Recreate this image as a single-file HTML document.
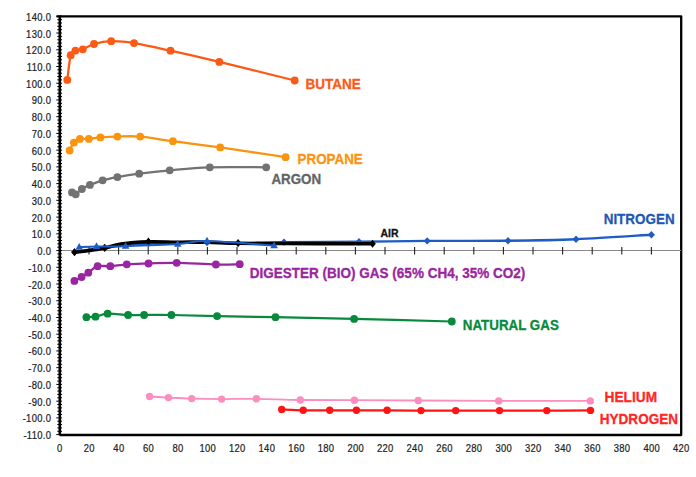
<!DOCTYPE html><html><head><meta charset="utf-8"><style>html,body{margin:0;padding:0;background:#fff;width:696px;height:477px;overflow:hidden}svg{display:block}</style></head><body>
<svg width="696" height="477" viewBox="0 0 696 477">
<rect width="696" height="477" fill="#fff"/>
<g font-family="Liberation Sans, sans-serif" font-size="10.7" letter-spacing="0.35" fill="#1c1c24" stroke="#1c1c24" stroke-width="0.22" text-anchor="end" transform="scale(0.88 1)">
<text x="58.18" y="20.80">140.0</text>
<text x="58.18" y="37.53">130.0</text>
<text x="58.18" y="54.27">120.0</text>
<text x="58.18" y="71.00">110.0</text>
<text x="58.18" y="87.73">100.0</text>
<text x="58.18" y="104.46">90.0</text>
<text x="58.18" y="121.19">80.0</text>
<text x="58.18" y="137.93">70.0</text>
<text x="58.18" y="154.66">60.0</text>
<text x="58.18" y="171.39">50.0</text>
<text x="58.18" y="188.12">40.0</text>
<text x="58.18" y="204.85">30.0</text>
<text x="58.18" y="221.59">20.0</text>
<text x="58.18" y="238.32">10.0</text>
<text x="58.18" y="255.05">0.0</text>
<text x="58.18" y="271.78">-10.0</text>
<text x="58.18" y="288.51">-20.0</text>
<text x="58.18" y="305.25">-30.0</text>
<text x="58.18" y="321.98">-40.0</text>
<text x="58.18" y="338.71">-50.0</text>
<text x="58.18" y="355.44">-60.0</text>
<text x="58.18" y="372.17">-70.0</text>
<text x="58.18" y="388.91">-80.0</text>
<text x="58.18" y="405.64">-90.0</text>
<text x="58.18" y="422.37">-100.0</text>
<text x="58.18" y="439.10">-110.0</text>
</g>
<g font-family="Liberation Sans, sans-serif" font-size="10.7" letter-spacing="0.35" fill="#1c1c24" stroke="#1c1c24" stroke-width="0.22" text-anchor="middle" transform="scale(0.88 1)">
<text x="67.84" y="451.6">0</text>
<text x="101.48" y="451.6">20</text>
<text x="135.11" y="451.6">40</text>
<text x="168.75" y="451.6">60</text>
<text x="202.39" y="451.6">80</text>
<text x="236.02" y="451.6">100</text>
<text x="269.66" y="451.6">120</text>
<text x="303.30" y="451.6">140</text>
<text x="336.93" y="451.6">160</text>
<text x="370.57" y="451.6">180</text>
<text x="404.20" y="451.6">200</text>
<text x="437.84" y="451.6">220</text>
<text x="471.48" y="451.6">240</text>
<text x="505.11" y="451.6">260</text>
<text x="538.75" y="451.6">280</text>
<text x="572.39" y="451.6">300</text>
<text x="606.02" y="451.6">320</text>
<text x="639.66" y="451.6">340</text>
<text x="673.30" y="451.6">360</text>
<text x="706.93" y="451.6">380</text>
<text x="740.57" y="451.6">400</text>
<text x="774.20" y="451.6">420</text>
</g>
<path d="M56.5 16.3H681.2V435H59.7" fill="none" stroke="#000" stroke-width="2.3" stroke-linejoin="round"/>
<line x1="59.7" y1="435" x2="681.2" y2="435" stroke="#000" stroke-width="1.8"/>
<line x1="60" y1="250.5" x2="681" y2="250.5" stroke="#8a8a8a" stroke-width="1"/>
<path d="M89.00 247V254.5 M118.60 247V254.5 M148.20 247V254.5 M177.80 247V254.5 M207.40 247V254.5 M237.00 247V254.5 M266.60 247V254.5 M296.20 247V254.5 M325.80 247V254.5 M355.40 247V254.5 M385.00 247V254.5 M414.60 247V254.5 M444.20 247V254.5 M473.80 247V254.5 M503.40 247V254.5 M533.00 247V254.5 M562.60 247V254.5 M592.20 247V254.5 M621.80 247V254.5 M651.40 247V254.5" stroke="#222" stroke-width="1.1" fill="none"/>
<line x1="59.8" y1="15.4" x2="59.8" y2="435.2" stroke="#000" stroke-width="2.6"/>
<path d="M56.3 16.30H62 M57.3 19.65H62 M57.3 22.99H62 M57.3 26.34H62 M57.3 29.69H62 M56.3 33.03H62 M57.3 36.38H62 M57.3 39.73H62 M57.3 43.07H62 M57.3 46.42H62 M56.3 49.77H62 M57.3 53.11H62 M57.3 56.46H62 M57.3 59.81H62 M57.3 63.15H62 M56.3 66.50H62 M57.3 69.84H62 M57.3 73.19H62 M57.3 76.54H62 M57.3 79.88H62 M56.3 83.23H62 M57.3 86.58H62 M57.3 89.92H62 M57.3 93.27H62 M57.3 96.62H62 M56.3 99.96H62 M57.3 103.31H62 M57.3 106.65H62 M57.3 110.00H62 M57.3 113.35H62 M56.3 116.69H62 M57.3 120.04H62 M57.3 123.39H62 M57.3 126.73H62 M57.3 130.08H62 M56.3 133.43H62 M57.3 136.77H62 M57.3 140.12H62 M57.3 143.47H62 M57.3 146.81H62 M56.3 150.16H62 M57.3 153.50H62 M57.3 156.85H62 M57.3 160.20H62 M57.3 163.54H62 M56.3 166.89H62 M57.3 170.24H62 M57.3 173.58H62 M57.3 176.93H62 M57.3 180.28H62 M56.3 183.62H62 M57.3 186.97H62 M57.3 190.31H62 M57.3 193.66H62 M57.3 197.01H62 M56.3 200.35H62 M57.3 203.70H62 M57.3 207.05H62 M57.3 210.39H62 M57.3 213.74H62 M56.3 217.09H62 M57.3 220.43H62 M57.3 223.78H62 M57.3 227.13H62 M57.3 230.47H62 M56.3 233.82H62 M57.3 237.16H62 M57.3 240.51H62 M57.3 243.86H62 M57.3 247.20H62 M56.3 250.55H62 M57.3 253.90H62 M57.3 257.24H62 M57.3 260.59H62 M57.3 263.94H62 M56.3 267.28H62 M57.3 270.63H62 M57.3 273.97H62 M57.3 277.32H62 M57.3 280.67H62 M56.3 284.01H62 M57.3 287.36H62 M57.3 290.71H62 M57.3 294.05H62 M57.3 297.40H62 M56.3 300.75H62 M57.3 304.09H62 M57.3 307.44H62 M57.3 310.79H62 M57.3 314.13H62 M56.3 317.48H62 M57.3 320.82H62 M57.3 324.17H62 M57.3 327.52H62 M57.3 330.86H62 M56.3 334.21H62 M57.3 337.56H62 M57.3 340.90H62 M57.3 344.25H62 M57.3 347.60H62 M56.3 350.94H62 M57.3 354.29H62 M57.3 357.63H62 M57.3 360.98H62 M57.3 364.33H62 M56.3 367.67H62 M57.3 371.02H62 M57.3 374.37H62 M57.3 377.71H62 M57.3 381.06H62 M56.3 384.41H62 M57.3 387.75H62 M57.3 391.10H62 M57.3 394.45H62 M57.3 397.79H62 M56.3 401.14H62 M57.3 404.48H62 M57.3 407.83H62 M57.3 411.18H62 M57.3 414.52H62 M56.3 417.87H62 M57.3 421.22H62 M57.3 424.56H62 M57.3 427.91H62 M57.3 431.26H62 M56.3 434.60H62" stroke="#000" stroke-width="1" fill="none"/>
<path d="M67.3 79.9C67.87 75.78 69.35 60.08 70.7 55.2C72.05 50.32 73.38 51.58 75.4 50.6C77.42 49.62 79.70 50.40 82.8 49.3C85.90 48.20 89.27 45.35 94.0 44.0C98.73 42.65 104.53 41.35 111.2 41.2C117.87 41.05 124.12 41.52 134.0 43.1C143.88 44.68 156.28 47.57 170.5 50.7C184.72 53.83 198.60 56.93 219.3 61.9C240.00 66.87 282.13 77.40 294.7 80.5" fill="none" stroke="#fb5a16" stroke-width="2.3" stroke-linejoin="round" stroke-linecap="round"/>
<circle cx="67.3" cy="79.9" r="3.9" fill="#fb5a16"/>
<circle cx="70.7" cy="55.2" r="3.9" fill="#fb5a16"/>
<circle cx="75.4" cy="50.6" r="3.9" fill="#fb5a16"/>
<circle cx="82.8" cy="49.3" r="3.9" fill="#fb5a16"/>
<circle cx="94.0" cy="44.0" r="3.9" fill="#fb5a16"/>
<circle cx="111.2" cy="41.2" r="3.9" fill="#fb5a16"/>
<circle cx="134.0" cy="43.1" r="3.9" fill="#fb5a16"/>
<circle cx="170.5" cy="50.7" r="3.9" fill="#fb5a16"/>
<circle cx="219.3" cy="61.9" r="3.9" fill="#fb5a16"/>
<circle cx="294.7" cy="80.5" r="3.9" fill="#fb5a16"/>
<path d="M69.6 150.5C70.32 149.18 72.18 144.53 73.9 142.6C75.62 140.67 77.42 139.52 79.9 138.9C82.38 138.28 85.38 139.15 88.8 138.9C92.22 138.65 95.63 137.78 100.4 137.4C105.17 137.02 110.77 136.73 117.4 136.6C124.03 136.47 130.95 135.83 140.2 136.6C149.45 137.37 159.57 139.40 172.9 141.2C186.23 143.00 201.42 144.73 220.2 147.4C238.98 150.07 274.70 155.57 285.6 157.2" fill="none" stroke="#fa9410" stroke-width="2.3" stroke-linejoin="round" stroke-linecap="round"/>
<circle cx="69.6" cy="150.5" r="3.9" fill="#fa9410"/>
<circle cx="73.9" cy="142.6" r="3.9" fill="#fa9410"/>
<circle cx="79.9" cy="138.9" r="3.9" fill="#fa9410"/>
<circle cx="88.8" cy="138.9" r="3.9" fill="#fa9410"/>
<circle cx="100.4" cy="137.4" r="3.9" fill="#fa9410"/>
<circle cx="117.4" cy="136.6" r="3.9" fill="#fa9410"/>
<circle cx="140.2" cy="136.6" r="3.9" fill="#fa9410"/>
<circle cx="172.9" cy="141.2" r="3.9" fill="#fa9410"/>
<circle cx="220.2" cy="147.4" r="3.9" fill="#fa9410"/>
<circle cx="285.6" cy="157.2" r="3.9" fill="#fa9410"/>
<path d="M72.0 192.4C72.62 192.72 74.05 194.87 75.7 194.3C77.35 193.73 79.53 190.57 81.9 189.0C84.27 187.43 86.45 186.35 89.9 184.9C93.35 183.45 98.02 181.60 102.6 180.3C107.18 179.00 111.30 178.20 117.4 177.1C123.50 176.00 130.48 174.83 139.2 173.7C147.92 172.57 157.93 171.37 169.7 170.3C181.47 169.23 193.72 167.80 209.8 167.3C225.88 166.80 256.80 167.30 266.2 167.3" fill="none" stroke="#727272" stroke-width="2.3" stroke-linejoin="round" stroke-linecap="round"/>
<circle cx="72.0" cy="192.4" r="3.9" fill="#727272"/>
<circle cx="75.7" cy="194.3" r="3.9" fill="#727272"/>
<circle cx="81.9" cy="189.0" r="3.9" fill="#727272"/>
<circle cx="89.9" cy="184.9" r="3.9" fill="#727272"/>
<circle cx="102.6" cy="180.3" r="3.9" fill="#727272"/>
<circle cx="117.4" cy="177.1" r="3.9" fill="#727272"/>
<circle cx="139.2" cy="173.7" r="3.9" fill="#727272"/>
<circle cx="169.7" cy="170.3" r="3.9" fill="#727272"/>
<circle cx="209.8" cy="167.3" r="3.9" fill="#727272"/>
<circle cx="266.2" cy="167.3" r="3.9" fill="#727272"/>
<path d="M74.4 280.9C75.60 280.25 79.28 278.37 81.6 277.0C83.92 275.63 85.63 274.50 88.3 272.7C90.97 270.90 93.93 267.28 97.6 266.2C101.27 265.12 105.43 266.52 110.3 266.2C115.17 265.88 120.43 264.75 126.8 264.3C133.17 263.85 140.18 263.75 148.5 263.5C156.82 263.25 165.47 262.63 176.7 262.8C187.93 262.97 205.40 264.27 215.9 264.5C226.40 264.73 235.73 264.25 239.7 264.2" fill="none" stroke="#9a25a0" stroke-width="2.3" stroke-linejoin="round" stroke-linecap="round"/>
<circle cx="74.4" cy="280.9" r="3.9" fill="#9a25a0"/>
<circle cx="81.6" cy="277.0" r="3.9" fill="#9a25a0"/>
<circle cx="88.3" cy="272.7" r="3.9" fill="#9a25a0"/>
<circle cx="97.6" cy="266.2" r="3.9" fill="#9a25a0"/>
<circle cx="110.3" cy="266.2" r="3.9" fill="#9a25a0"/>
<circle cx="126.8" cy="264.3" r="3.9" fill="#9a25a0"/>
<circle cx="148.5" cy="263.5" r="3.9" fill="#9a25a0"/>
<circle cx="176.7" cy="262.8" r="3.9" fill="#9a25a0"/>
<circle cx="215.9" cy="264.5" r="3.9" fill="#9a25a0"/>
<circle cx="239.7" cy="264.2" r="3.9" fill="#9a25a0"/>
<path d="M86.4 317.2C87.92 317.12 91.97 317.28 95.5 316.7C99.03 316.12 102.17 313.98 107.6 313.7C113.03 313.42 122.02 314.78 128.1 315.0C134.18 315.22 136.88 315.00 144.1 315.0C151.32 315.00 159.23 314.82 171.4 315.0C183.57 315.18 199.75 315.73 217.1 316.1C234.45 316.47 252.67 316.73 275.5 317.2C298.33 317.67 324.72 318.18 354.1 318.9C383.48 319.62 435.52 321.07 451.8 321.5" fill="none" stroke="#088a3c" stroke-width="2.2" stroke-linejoin="round" stroke-linecap="round"/>
<circle cx="86.4" cy="317.2" r="3.9" fill="#088a3c"/>
<circle cx="95.5" cy="316.7" r="3.9" fill="#088a3c"/>
<circle cx="107.6" cy="313.7" r="3.9" fill="#088a3c"/>
<circle cx="128.1" cy="315.0" r="3.9" fill="#088a3c"/>
<circle cx="144.1" cy="315.0" r="3.9" fill="#088a3c"/>
<circle cx="171.4" cy="315.0" r="3.9" fill="#088a3c"/>
<circle cx="217.1" cy="316.1" r="3.9" fill="#088a3c"/>
<circle cx="275.5" cy="317.2" r="3.9" fill="#088a3c"/>
<circle cx="354.1" cy="318.9" r="3.9" fill="#088a3c"/>
<circle cx="451.8" cy="321.5" r="3.9" fill="#088a3c"/>
<path d="M149.6 396.5C152.73 396.68 161.38 397.25 168.4 397.6C175.42 397.95 182.83 398.35 191.7 398.6C200.57 398.85 210.82 399.07 221.6 399.1C232.38 399.13 243.28 398.65 256.4 398.8C269.52 398.95 283.97 399.77 300.3 400C316.63 400.23 334.75 400.12 354.4 400.2C374.05 400.28 394.15 400.38 418.2 400.5C442.25 400.62 470.02 400.83 498.7 400.9C527.38 400.97 575.03 400.90 590.3 400.9" fill="none" stroke="#fd8dbf" stroke-width="1.8" stroke-linejoin="round" stroke-linecap="round"/>
<circle cx="149.6" cy="396.5" r="3.7" fill="#fd8dbf"/>
<circle cx="168.4" cy="397.6" r="3.7" fill="#fd8dbf"/>
<circle cx="191.7" cy="398.6" r="3.7" fill="#fd8dbf"/>
<circle cx="221.6" cy="399.1" r="3.7" fill="#fd8dbf"/>
<circle cx="256.4" cy="398.8" r="3.7" fill="#fd8dbf"/>
<circle cx="300.3" cy="400" r="3.7" fill="#fd8dbf"/>
<circle cx="354.4" cy="400.2" r="3.7" fill="#fd8dbf"/>
<circle cx="418.2" cy="400.5" r="3.7" fill="#fd8dbf"/>
<circle cx="498.7" cy="400.9" r="3.7" fill="#fd8dbf"/>
<circle cx="590.3" cy="400.9" r="3.7" fill="#fd8dbf"/>
<path d="M281.7 409.4C285.28 409.55 295.20 410.15 303.2 410.3C311.20 410.45 320.83 410.30 329.7 410.3C338.57 410.30 346.83 410.30 356.4 410.3C365.97 410.30 376.33 410.25 387.1 410.3C397.87 410.35 409.57 410.55 421 410.6C432.43 410.65 442.62 410.60 455.7 410.6C468.78 410.60 484.32 410.60 499.5 410.6C514.68 410.60 531.63 410.63 546.8 410.6C561.97 410.57 583.22 410.43 590.5 410.4" fill="none" stroke="#ff1414" stroke-width="2.3" stroke-linejoin="round" stroke-linecap="round"/>
<circle cx="281.7" cy="409.4" r="3.7" fill="#ff1414"/>
<circle cx="303.2" cy="410.3" r="3.7" fill="#ff1414"/>
<circle cx="329.7" cy="410.3" r="3.7" fill="#ff1414"/>
<circle cx="356.4" cy="410.3" r="3.7" fill="#ff1414"/>
<circle cx="387.1" cy="410.3" r="3.7" fill="#ff1414"/>
<circle cx="421" cy="410.6" r="3.7" fill="#ff1414"/>
<circle cx="455.7" cy="410.6" r="3.7" fill="#ff1414"/>
<circle cx="499.5" cy="410.6" r="3.7" fill="#ff1414"/>
<circle cx="546.8" cy="410.6" r="3.7" fill="#ff1414"/>
<circle cx="590.5" cy="410.4" r="3.7" fill="#ff1414"/>
<path d="M74.5 252C79.53 251.25 92.38 248.92 104.7 247.5C117.02 246.08 131.35 244.33 148.4 243.5C165.45 242.67 192.07 242.53 207 242.5C221.93 242.47 225.17 243.37 238 243.3C250.83 243.23 263.83 242.35 284 242.1C304.17 241.85 335.13 242.00 359 241.8C382.87 241.60 402.37 241.08 427.2 240.9C452.03 240.72 483.20 240.98 508 240.7C532.80 240.42 552.10 240.20 576 239.2C599.90 238.20 638.83 235.45 651.4 234.7" fill="none" stroke="#1c5cc4" stroke-width="2.4" stroke-linejoin="round" stroke-linecap="round"/>
<path d="M74.5 248.3L78.015 252L74.5 255.7L70.985 252Z" fill="#1c5cc4"/>
<path d="M104.7 243.8L108.215 247.5L104.7 251.2L101.185 247.5Z" fill="#1c5cc4"/>
<path d="M148.4 239.8L151.915 243.5L148.4 247.2L144.88500000000002 243.5Z" fill="#1c5cc4"/>
<path d="M207 238.8L210.515 242.5L207 246.2L203.485 242.5Z" fill="#1c5cc4"/>
<path d="M238 239.60000000000002L241.515 243.3L238 247.0L234.485 243.3Z" fill="#1c5cc4"/>
<path d="M284 238.4L287.515 242.1L284 245.79999999999998L280.485 242.1Z" fill="#1c5cc4"/>
<path d="M359 238.10000000000002L362.515 241.8L359 245.5L355.485 241.8Z" fill="#1c5cc4"/>
<path d="M427.2 237.20000000000002L430.715 240.9L427.2 244.6L423.685 240.9Z" fill="#1c5cc4"/>
<path d="M508 237.0L511.515 240.7L508 244.39999999999998L504.485 240.7Z" fill="#1c5cc4"/>
<path d="M576 235.5L579.515 239.2L576 242.89999999999998L572.485 239.2Z" fill="#1c5cc4"/>
<path d="M651.4 231.0L654.915 234.7L651.4 238.39999999999998L647.885 234.7Z" fill="#1c5cc4"/>
<path d="M74.5 252.3C77.00 252.00 84.47 251.22 89.5 250.5C94.53 249.78 99.45 249.08 104.7 248C109.95 246.92 113.72 245.03 121 244C128.28 242.97 138.98 242.10 148.4 241.8C157.82 241.50 167.73 242.13 177.5 242.2C187.27 242.27 196.90 242.02 207 242.2C217.10 242.38 225.27 243.08 238.1 243.3C250.93 243.52 263.85 243.43 284 243.5C304.15 243.57 344.23 243.67 359 243.7C373.77 243.73 370.33 243.70 372.6 243.7" fill="none" stroke="#000" stroke-width="3.6" stroke-linejoin="round" stroke-linecap="round"/>
<path d="M74.5 248.3L77.7 252.3L74.5 256.3L71.3 252.3Z" fill="#000"/>
<path d="M104.7 244L107.9 248L104.7 252L101.5 248Z" fill="#000"/>
<path d="M148.4 237.5L151.6 241.5L148.4 245.5L145.20000000000002 241.5Z" fill="#000"/>
<path d="M238.1 239.1L241.29999999999998 243.1L238.1 247.1L234.9 243.1Z" fill="#000"/>
<path d="M372.6 239.7L375.8 243.7L372.6 247.7L369.40000000000003 243.7Z" fill="#000"/>
<path d="M79.2 247.1C82.08 247.00 88.77 246.65 96.5 246.5C104.23 246.35 112.07 246.60 125.6 246.2C139.13 245.80 164.13 244.97 177.7 244.1C191.27 243.23 190.93 240.75 207 241C223.07 241.25 262.92 244.83 274.1 245.6" fill="none" stroke="#1c5cc4" stroke-width="2" stroke-linejoin="round" stroke-linecap="round"/>
<path d="M79.2 242.92L83.0 249.76L75.4 249.76Z" fill="#1c5cc4"/>
<path d="M96.5 242.32L100.3 249.16L92.7 249.16Z" fill="#1c5cc4"/>
<path d="M125.6 242.01999999999998L129.4 248.85999999999999L121.8 248.85999999999999Z" fill="#1c5cc4"/>
<path d="M177.7 239.92L181.5 246.76L173.89999999999998 246.76Z" fill="#1c5cc4"/>
<path d="M207 236.82L210.8 243.66L203.2 243.66Z" fill="#1c5cc4"/>
<path d="M274.1 241.42L277.90000000000003 248.26L270.3 248.26Z" fill="#1c5cc4"/>
<text x="305.5" y="88.6" font-family="Liberation Sans, sans-serif" font-weight="bold" font-size="14.39" fill="#fb5a16" stroke="#fb5a16" stroke-width="0.3" textLength="55.2" lengthAdjust="spacingAndGlyphs">BUTANE</text>
<text x="297.6" y="163.5" font-family="Liberation Sans, sans-serif" font-weight="bold" font-size="14.80" fill="#fa9410" stroke="#fa9410" stroke-width="0.3" textLength="65.1" lengthAdjust="spacingAndGlyphs">PROPANE</text>
<text x="271.4" y="183.7" font-family="Liberation Sans, sans-serif" font-weight="bold" font-size="14.39" fill="#636466" stroke="#636466" stroke-width="0.3" textLength="49.8" lengthAdjust="spacingAndGlyphs">ARGON</text>
<text x="603.7" y="224.1" font-family="Liberation Sans, sans-serif" font-weight="bold" font-size="14.66" fill="#1f58b4" stroke="#1f58b4" stroke-width="0.3" textLength="70.9" lengthAdjust="spacingAndGlyphs">NITROGEN</text>
<text x="380.5" y="236.8" font-family="Liberation Sans, sans-serif" font-weight="bold" font-size="10.89" fill="#111" stroke="#111" stroke-width="0.3" textLength="18.0" lengthAdjust="spacingAndGlyphs">AIR</text>
<text x="249.7" y="278.3" font-family="Liberation Sans, sans-serif" font-weight="bold" font-size="14.11" fill="#9a25a0" stroke="#9a25a0" stroke-width="0.3" textLength="275.6" lengthAdjust="spacingAndGlyphs">DIGESTER (BIO) GAS (65% CH4, 35% CO2)</text>
<text x="462.8" y="329.6" font-family="Liberation Sans, sans-serif" font-weight="bold" font-size="13.83" fill="#088a3c" stroke="#088a3c" stroke-width="0.3" textLength="96.0" lengthAdjust="spacingAndGlyphs">NATURAL GAS</text>
<text x="604.5" y="402.4" font-family="Liberation Sans, sans-serif" font-weight="bold" font-size="14.39" fill="#ff2626" stroke="#ff2626" stroke-width="0.3" textLength="52.6" lengthAdjust="spacingAndGlyphs">HELIUM</text>
<text x="599.8" y="423.7" font-family="Liberation Sans, sans-serif" font-weight="bold" font-size="14.39" fill="#ff2626" stroke="#ff2626" stroke-width="0.3" textLength="78.2" lengthAdjust="spacingAndGlyphs">HYDROGEN</text>
</svg></body></html>
